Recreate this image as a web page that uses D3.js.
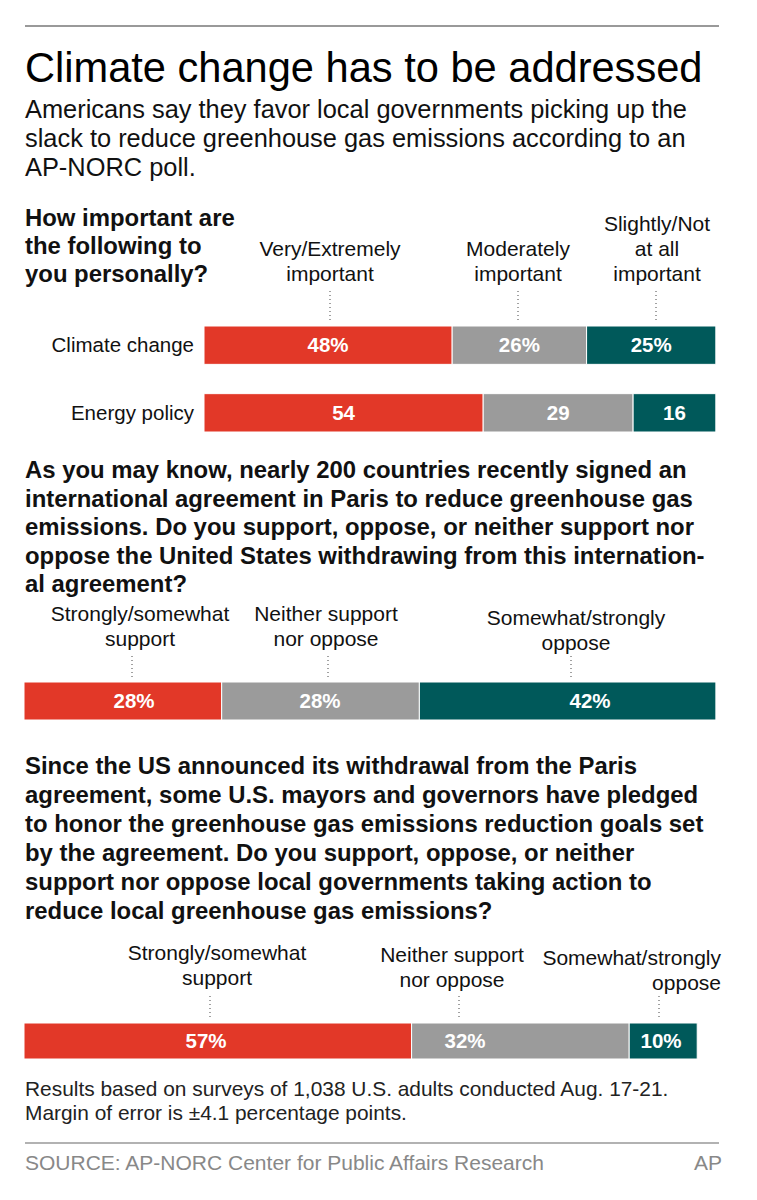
<!DOCTYPE html>
<html>
<head>
<meta charset="utf-8">
<script src="https://cdn.jsdelivr.net/npm/d3@7"></script>
<style>
  body { margin: 0; background: #fff; }
  svg { display: block; font-family: "Liberation Sans", Arial, Helvetica, sans-serif; }
</style>
</head>
<body>
<div id="chart"></div>
<script>
// ---- data ----
const importanceRows = ["Climate change", "Energy policy"];
const importanceCats = ["Very/Extremely important", "Moderately important", "Slightly/Not at all important"];
const importanceValues = [[48, 26, 25], [54, 29, 16]];

const parisRows = ["Paris withdrawal"];
const parisCats = ["Strongly/somewhat support", "Neither support nor oppose", "Somewhat/strongly oppose"];
const parisValues = [[28, 28, 42]];

const localRows = ["Local action"];
const localCats = ["Strongly/somewhat support", "Neither support nor oppose", "Somewhat/strongly oppose"];
const localValues = [[57, 32, 10]];

// header line breaks (text only)
const importanceHeaders = [["Very/Extremely", "important"], ["Moderately", "important"], ["Slightly/Not", "at all", "important"]];
const parisHeaders = [["Strongly/somewhat", "support"], ["Neither support", "nor oppose"], ["Somewhat/strongly", "oppose"]];
const localHeaders = [["Strongly/somewhat", "support"], ["Neither support", "nor oppose"], ["Somewhat/strongly", "oppose"]];

const colors = ["#e23828", "#9b9b9b", "#00595a"];

const W = 757, H = 1200;
const svg = d3.select("#chart").append("svg").attr("width", W).attr("height", H);
svg.append("rect").attr("width", W).attr("height", H).attr("fill", "#fff");

function lines(g, arr, x, y0, lh, opts) {
  const t = g.append("text")
    .attr("x", x).attr("y", y0)
    .attr("font-size", opts.size)
    .attr("font-weight", opts.weight || "normal")
    .attr("fill", opts.fill || "#111")
    .attr("text-anchor", opts.anchor || "start");
  arr.forEach((s, i) => {
    t.append("tspan").attr("x", x).attr("y", y0 + i * lh).text(s);
  });
  return t;
}

// ---- header ----
svg.append("line").attr("x1", 25).attr("x2", 719).attr("y1", 26).attr("y2", 26)
  .attr("stroke", "#777").attr("stroke-width", 1.5);
lines(svg, ["Climate change has to be addressed"], 25, 82, 0, { size: 41.6, fill: "#000" });
lines(svg, [
  "Americans say they favor local governments picking up the",
  "slack to reduce greenhouse gas emissions according to an",
  "AP-NORC poll."
], 25, 118, 29, { size: 25.4 });

// ---- question texts ----
const qSize = 23.9;
lines(svg, ["How important are", "the following to", "you personally?"], 25, 226, 28, { size: qSize, weight: "bold" });
lines(svg, [
  "As you may know, nearly 200 countries recently signed an",
  "international agreement in Paris to reduce greenhouse gas",
  "emissions. Do you support, oppose, or neither support nor",
  "oppose the United States withdrawing from this internation-",
  "al agreement?"
], 25, 478, 28.5, { size: qSize, weight: "bold" });
lines(svg, [
  "Since the US announced its withdrawal from the Paris",
  "agreement, some U.S. mayors and governors have pledged",
  "to honor the greenhouse gas emissions reduction goals set",
  "by the agreement. Do you support, oppose, or neither",
  "support nor oppose local governments taking action to",
  "reduce local greenhouse gas emissions?"
], 25, 774, 29, { size: qSize, weight: "bold" });

// ---- stacked bar panels ----
function drawPanel(cfg) {
  const g = svg.append("g");
  const x = d3.scaleLinear().domain([0, 100]).range(cfg.xRange);
  const y = d3.scaleBand().domain(cfg.rows).range(cfg.yRange).paddingInner(cfg.pad || 0);

  cfg.values.forEach((vals, ri) => {
    const ends = Array.from(d3.cumsum(vals));
    const segs = vals.map((v, i) => ({ v, i, x0: ends[i] - v, x1: ends[i] }));
    const row = cfg.rows[ri];

    g.selectAll(null).data(segs).enter().append("rect")
      .attr("x", d => x(d.x0))
      .attr("y", y(row))
      .attr("width", d => x(d.x1) - x(d.x0))
      .attr("height", y.bandwidth())
      .attr("fill", d => colors[d.i])
      .attr("stroke", "#fff").attr("stroke-width", 1);

    g.selectAll(null).data(segs).enter().append("text")
      .attr("x", d => cfg.labelX ? cfg.labelX[d.i] : (x(d.x0) + x(d.x1)) / 2)
      .attr("y", y(row) + y.bandwidth() / 2 + 7.2)
      .attr("text-anchor", "middle")
      .attr("font-size", 20.5).attr("font-weight", "bold").attr("fill", "#fff")
      .text(d => d.v + (cfg.pct(ri) ? "%" : ""));

    if (cfg.showRowLabels) {
      g.append("text")
        .attr("x", x(0) - 10)
        .attr("y", y(row) + y.bandwidth() / 2 + 7)
        .attr("text-anchor", "end")
        .attr("font-size", 20.5).attr("fill", "#111")
        .text(row);
    }
  });

  // column headers with dotted leaders
  const first = cfg.values[0];
  const firstEnds = Array.from(d3.cumsum(first));
  cfg.headers.forEach((hl, i) => {
    const cx = (x(firstEnds[i] - first[i]) + x(firstEnds[i])) / 2;
    const hx = cfg.headerX ? cfg.headerX[i] : cx;
    const dx = cfg.dotX ? cfg.dotX[i] : cx;
    const anchor = cfg.headerAnchor ? cfg.headerAnchor[i] : "middle";
    const last = cfg.headerBase[i];
    lines(g, hl, hx, last - (hl.length - 1) * 25, 25, { size: 21, anchor });
    g.append("line")
      .attr("x1", dx).attr("x2", dx)
      .attr("y1", cfg.dotY[0]).attr("y2", cfg.dotY[1])
      .attr("stroke", "#444").attr("stroke-width", 1)
      .attr("stroke-dasharray", "1,3");
  });
}

drawPanel({
  rows: importanceRows, values: importanceValues, headers: importanceHeaders,
  xRange: [204, 721], yRange: [326, 432], pad: 0.433,
  pct: ri => ri === 0, showRowLabels: true,
  headerX: [330, 518, 657], dotX: [330, 518, 656],
  headerBase: [281, 281, 281], dotY: [291, 323]
});

drawPanel({
  rows: parisRows, values: parisValues, headers: parisHeaders,
  xRange: [24, 730], yRange: [682, 720],
  pct: () => true,
  labelX: [134, 320, 590],
  headerX: [140, 326, 576], dotX: [132, 328, 571],
  headerBase: [646, 646, 650], dotY: [656, 677]
});

drawPanel({
  rows: localRows, values: localValues, headers: localHeaders,
  xRange: [24, 704], yRange: [1023, 1059],
  pct: () => true,
  labelX: [206, 465, 661],
  headerX: [217, 452, 721], dotX: [210, 459, 659],
  headerAnchor: ["middle", "middle", "end"],
  headerBase: [985, 987, 990], dotY: [996, 1018]
});

// ---- footer ----
lines(svg, [
  "Results based on surveys of 1,038 U.S. adults conducted Aug. 17-21.",
  "Margin of error is \u00b14.1 percentage points."
], 25, 1096, 23.5, { size: 20.9, fill: "#222" });
svg.append("line").attr("x1", 25).attr("x2", 719).attr("y1", 1143).attr("y2", 1143)
  .attr("stroke", "#999").attr("stroke-width", 1.5);
lines(svg, ["SOURCE: AP-NORC Center for Public Affairs Research"], 25, 1170, 0, { size: 21, fill: "#888" });
lines(svg, ["AP"], 722, 1170, 0, { size: 21, fill: "#888", anchor: "end" });
</script>
</body>
</html>
